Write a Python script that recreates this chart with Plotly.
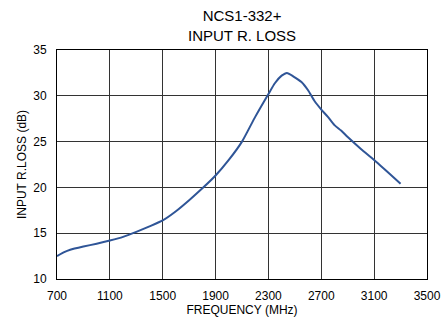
import plotly.graph_objects as go

freq_mhz = [700, 750, 800, 900, 1000, 1100, 1200, 1300, 1400, 1500, 1600, 1700, 1800,
            1900, 2000, 2100, 2200, 2300, 2350, 2400, 2440, 2490, 2550, 2600, 2650,
            2700, 2750, 2800, 2850, 2900, 3000, 3100, 3200, 3300]
input_rl_db = [12.5, 12.9, 13.2, 13.55, 13.85, 14.2, 14.6, 15.15, 15.75, 16.4, 17.4, 18.6, 19.9,
               21.3, 23.0, 25.0, 27.7, 30.2, 31.4, 32.2, 32.5, 32.1, 31.5, 30.6, 29.4,
               28.5, 27.7, 26.8, 26.2, 25.5, 24.2, 23.0, 21.7, 20.4]

x_ticks = [700, 1100, 1500, 1900, 2300, 2700, 3100, 3500]
y_ticks = [10, 15, 20, 25, 30, 35]

fig = go.Figure()
fig.add_trace(go.Scatter(x=freq_mhz, y=input_rl_db, mode="lines",
                         line=dict(color="#2F5597", width=2, shape="spline", smoothing=0.6),
                         hoverinfo="skip", showlegend=False))

font = "Liberation Sans, Arial, sans-serif"
fig.update_layout(
    width=445, height=318,
    margin=dict(l=57, r=18, t=50, b=39),
    paper_bgcolor="white", plot_bgcolor="white",
    font=dict(family=font, size=12, color="black"),
    annotations=[dict(text="NCS1-332+<br>INPUT R. LOSS", xref="paper", yref="paper",
                      x=0.5, y=1, yshift=4, xanchor="center", yanchor="bottom",
                      showarrow=False, font=dict(family=font, size=15, color="black"))],
    xaxis=dict(range=[700, 3500], tickvals=x_ticks, ticktext=[str(v) for v in x_ticks],
               showgrid=True, gridcolor="#333", gridwidth=1, zeroline=False,
               showline=True, linecolor="black", linewidth=1, mirror=True,
               ticks="", automargin=False, ticklabelstandoff=6,
               title=dict(text="FREQUENCY (MHz)", standoff=0, font=dict(size=12))),
    yaxis=dict(range=[10, 35], tickvals=y_ticks, ticktext=[str(v) for v in y_ticks],
               showgrid=True, gridcolor="#333", gridwidth=1, zeroline=False,
               showline=True, linecolor="black", linewidth=1, mirror=True,
               ticks="", automargin=False, ticklabelstandoff=7,
               title=dict(text="INPUT R.LOSS (dB)", standoff=4, font=dict(size=12))),
)

fig.write_html("out.html", config={"displayModeBar": False})

with open("out.html", "r", encoding="utf-8") as f:
    html = f.read()
html = html.replace("<body>", '<body style="margin:0;padding:0;overflow:hidden">', 1)
with open("out.html", "w", encoding="utf-8") as f:
    f.write(html)
